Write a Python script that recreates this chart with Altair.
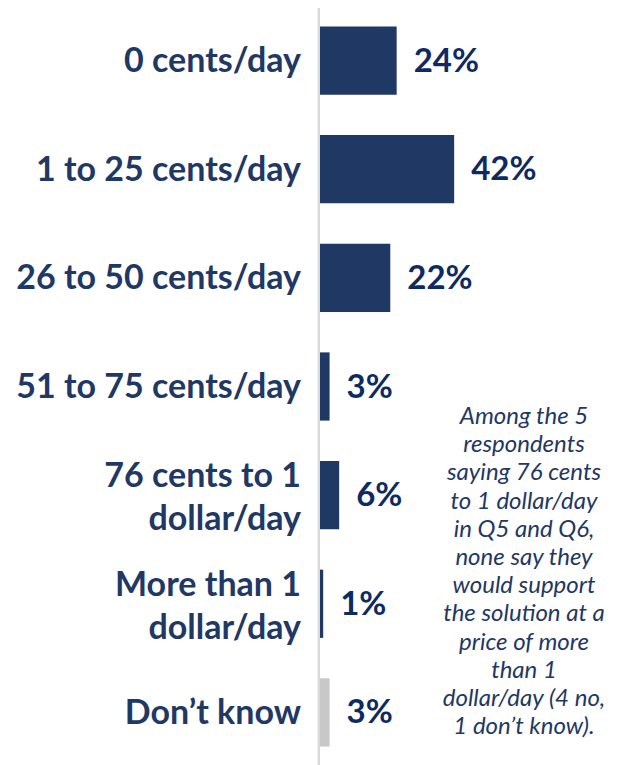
import altair as alt
import pandas as pd

categories = [
    "0 cents/day",
    "1 to 25 cents/day",
    "26 to 50 cents/day",
    "51 to 75 cents/day",
    "76 cents to 1\ndollar/day",
    "More than 1\ndollar/day",
    "Don\u2019t know",
]
values = [24, 42, 22, 3, 6, 1, 3]
value_labels = ["24%", "42%", "22%", "3%", "6%", "1%", "3%"]

note_lines = [
    "Among the 5",
    "respondents",
    "saying 76 cents",
    "to 1 dollar/day",
    "in Q5 and Q6,",
    "none say they",
    "would support",
    "the solution at a",
    "price of more",
    "than 1",
    "dollar/day (4 no,",
    "1 don\u2019t know).",
]

df = pd.DataFrame({"category": categories, "value": values, "label": value_labels})

W, H = 291, 757
NAVY = "#1F3864"
LABEL_NAVY = "#0E2A63"
FONT = "Lato"
CAT_SIZE = 34
LINE_H = 43

y_enc = alt.Y(
    "category:N",
    sort=categories,
    axis=None,
    scale=alt.Scale(paddingInner=0.372, paddingOuter=0.17),
)
x_scale = alt.Scale(domain=[0, 91.1], nice=False, zero=True)

base = alt.Chart(df)

bars = base.mark_bar().encode(
    x=alt.X("value:Q", scale=x_scale, axis=None),
    y=y_enc,
    color=alt.condition(
        alt.datum.category == "Don\u2019t know", alt.value("#C8C8C8"), alt.value(NAVY)
    ),
)

vals = base.mark_text(
    align="left", baseline="middle", dx=17, dy=1, fontSize=33, fontWeight="bold",
    font=FONT, color=LABEL_NAVY,
).encode(
    x=alt.X("value:Q", scale=x_scale, axis=None),
    y=y_enc,
    text="label:N",
)

cats_single = base.transform_filter(
    "indexof(datum.category, '\\n') < 0"
).mark_text(
    align="right", baseline="middle", dy=1.5, fontSize=CAT_SIZE, fontWeight="bold",
    font=FONT, color=NAVY,
).encode(
    x=alt.value(-19),
    y=y_enc,
    text="category:N",
)

cats_multi = base.transform_filter(
    "indexof(datum.category, '\\n') >= 0"
).mark_text(
    align="right", baseline="middle", fontSize=CAT_SIZE, fontWeight="bold",
    font=FONT, color=NAVY, lineBreak="\n", lineHeight=LINE_H, dy=-18,
).encode(
    x=alt.value(-19),
    y=y_enc,
    text="category:N",
)

axis_line = alt.Chart(pd.DataFrame({"a": [0]})).mark_rule(
    color="#D9D9D9", strokeWidth=2.5
).encode(x=alt.value(-1.2), y=alt.value(-1), y2=alt.value(H))

note = alt.Chart(pd.DataFrame({"note": ["\n".join(note_lines)]})).mark_text(
    align="center", baseline="middle", fontSize=24, fontStyle="italic",
    font=FONT, color=NAVY, lineBreak="\n", lineHeight=28.2,
).encode(
    x=alt.value(204), y=alt.value(409), text="note:N"
)

chart = alt.layer(axis_line, bars, vals, cats_single, cats_multi, note).properties(
    width=W, height=H,
    autosize=alt.AutoSizeParams(type="none"),
    padding={"left": 312, "top": 0, "right": 0, "bottom": 0},
).configure_view(stroke=None)

chart.save("out.html", embed_options={"renderer": "svg", "actions": False})
